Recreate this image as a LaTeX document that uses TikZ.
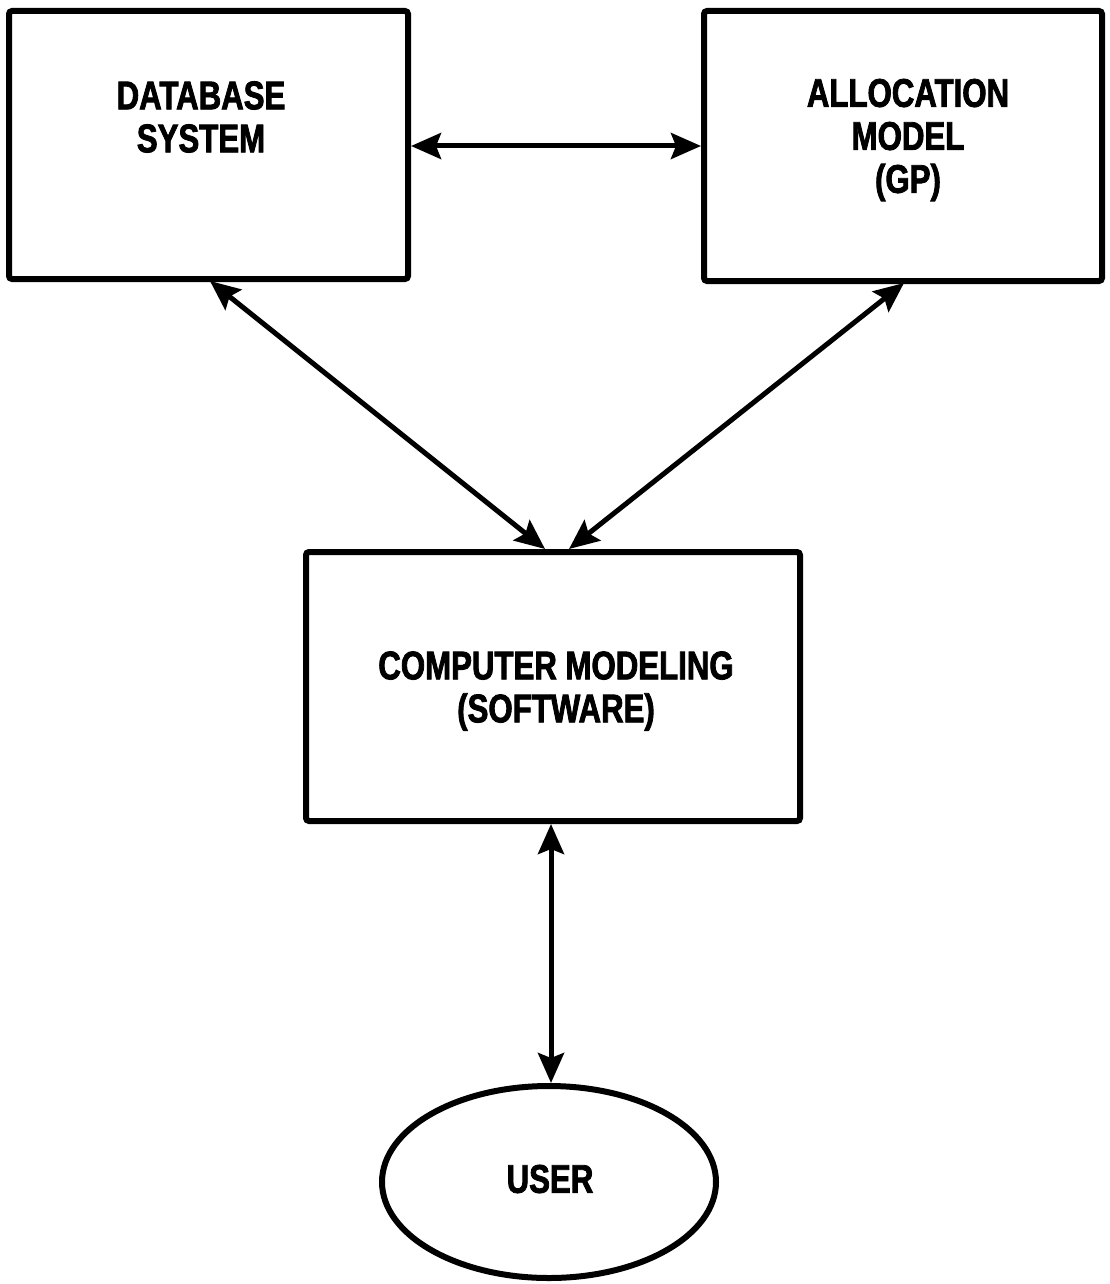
\documentclass[tikz,border=0pt]{standalone}
\usepackage{fontspec}
\newfontfamily\lblfont[FakeStretch=0.78,FakeBold=2]{Liberation Sans}
\usetikzlibrary{arrows.meta,shapes.geometric}
\tikzset{
  headtip/.tip={Stealth[length=30pt,width=26pt,inset=5pt]}
}
\begin{document}
\begin{tikzpicture}[x=1pt,y=-1pt,
  box/.style={draw, line width=6pt, rounded corners=3pt, inner sep=0pt},
  lbl/.style={font=\lblfont\bfseries\fontsize{40}{43}\selectfont, align=center, inner sep=0pt},
  link/.style={line width=5pt, headtip-headtip}]
  \useasboundingbox (0,0) rectangle (1110,1284);

  % the three blocks and the user
  \node[box, minimum width=399pt, minimum height=268pt] (db) at (208.5,145) {};
  \node[box, minimum width=398pt, minimum height=270pt] (gp) at (903,146) {};
  \node[box, minimum width=494pt, minimum height=269pt] (cm) at (553,686.5) {};
  \node[draw, ellipse, line width=6pt, minimum width=334pt, minimum height=192pt, inner sep=0pt] (user) at (549,1182) {};

  % labels
  \node[lbl] (dbtext) at (201,117) {DATABASE\\SYSTEM};
  \node[lbl] (gptext) at (908,140) {ALLOCATION\\MODEL\\(GP)};
  \node[lbl] (cmtext) at (556,691) {COMPUTER MODELING\\(SOFTWARE)};
  \node[lbl] (usertext) at (550,1179) {USER};

  % connection points on the block edges
  \coordinate (dbR) at (db.east |- 0,146);
  \coordinate (gpL) at (gp.west |- 0,146);
  \coordinate (dbB) at (210,281);
  \coordinate (gpB) at (904,283);
  \coordinate (cmL) at (545,549);
  \coordinate (cmR) at (569,549);
  \coordinate (cmB) at (cm.south -| 551,0);
  \coordinate (userT) at (user.north -| 551,0);

  % links
  \draw[link] (dbR) -- (gpL);
  \draw[link] (dbB) -- (cmL);
  \draw[link] (gpB) -- (cmR);
  \draw[link] (cmB) -- (userT);
\end{tikzpicture}
\end{document}
